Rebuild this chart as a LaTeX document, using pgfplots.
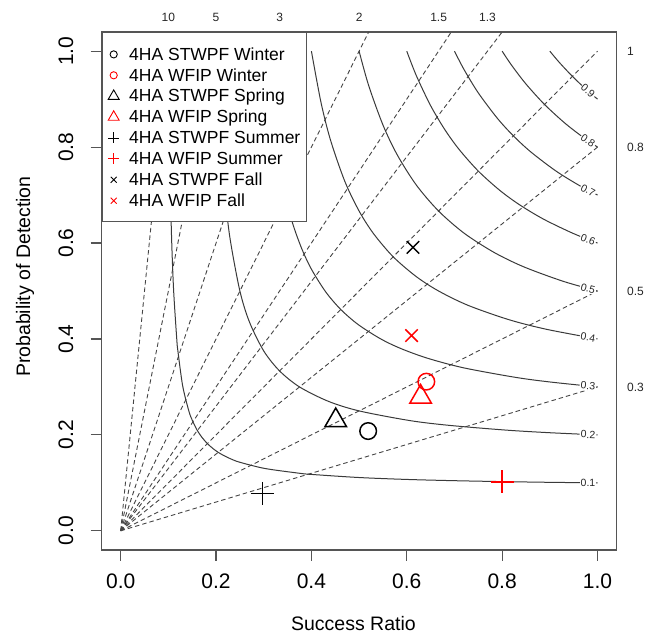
\documentclass[border=0pt]{standalone}
\usepackage{fontspec}
\setmainfont{Liberation Sans}
\usepackage{pgfplots}
\pgfplotsset{compat=1.18}
\definecolor{framecol}{HTML}{555555}
\definecolor{curvecol}{HTML}{3A3A3A}
\definecolor{dashcol}{HTML}{454545}
\tikzset{
  lab/.style={font=\fontsize{10.5}{12}\selectfont, fill=white, inner sep=1pt, text=black!85},
  blab/.style={font=\fontsize{12}{14}\selectfont, text=black!85},
}
\begin{document}
\begin{tikzpicture}
\path[use as bounding box] (-101.6pt,-89pt) rectangle (553.4pt,550pt);
\begin{axis}[
  scale only axis, width=515pt, height=518pt,
  xmin=-0.04, xmax=1.04, ymin=-0.04, ymax=1.04,
  xtick={0,0.2,0.4,0.6,0.8,1}, ytick={0,0.2,0.4,0.6,0.8,1},
  xtick pos=left, ytick pos=left,
  tick align=outside, major tick length=11pt,
  axis line style={framecol, line width=1.3pt},
  tick style={framecol, line width=1.2pt},
  xticklabel style={font=\fontsize{21}{25}\selectfont, anchor=north, inner sep=0pt},
  yticklabel style={font=\fontsize{21}{25}\selectfont, rotate=90, anchor=south, inner sep=0pt},
  xticklabel shift=13pt, yticklabel shift=17pt,
  /pgf/number format/.cd, fixed, fixed zerofill, precision=1, assume math mode=true,
  /pgfplots/.cd,
  xlabel={Success Ratio}, ylabel={Probability of Detection},
  xlabel style={at={(axis description cs:0.489,-0.1429)}, anchor=center, font=\fontsize{19.5}{24}\selectfont},
  ylabel style={at={(axis description cs:-0.1487,0.5276)}, anchor=center, font=\fontsize{19.5}{24}\selectfont},
  clip=false,
  legend style={at={(rel axis cs:0,1)}, anchor=north west, draw=framecol, line width=1.2pt, fill=white,
    font=\fontsize{17.5}{21}\selectfont, inner xsep=6pt, inner ysep=15pt, row sep=8.3pt, column sep=10pt,
    nodes={inner sep=0pt, text height=12.6pt, text depth=0pt}},
  legend cell align=left,
  legend image code/.code={\draw[#1] plot coordinates {(0pt,-0.5pt)};},
  bias/.style={dashcol, line width=0.9pt, dash pattern=on 4.5pt off 3pt, forget plot},
  csi/.style={curvecol, line width=1pt, smooth, forget plot},
]
% legend
\addlegendimage{only marks, mark=o, mark size=3.6pt, line width=0.9pt, black}
\addlegendentry{4HA STWPF Winter}
\addlegendimage{only marks, mark=o, mark size=3.6pt, line width=0.9pt, red}
\addlegendentry{4HA WFIP Winter}
\addlegendimage{only marks, mark=triangle, mark size=6.3pt, line width=0.9pt, black}
\addlegendentry{4HA STWPF Spring}
\addlegendimage{only marks, mark=triangle, mark size=6.3pt, line width=0.9pt, red}
\addlegendentry{4HA WFIP Spring}
\addlegendimage{only marks, mark=+, mark size=5.5pt, line width=0.9pt, black}
\addlegendentry{4HA STWPF Summer}
\addlegendimage{only marks, mark=+, mark size=5.5pt, line width=0.9pt, red}
\addlegendentry{4HA WFIP Summer}
\addlegendimage{only marks, mark=x, mark size=4.2pt, line width=0.9pt, black}
\addlegendentry{4HA STWPF Fall}
\addlegendimage{only marks, mark=x, mark size=4.2pt, line width=0.9pt, red}
\addlegendentry{4HA WFIP Fall}

% bias lines
\addplot[bias] coordinates {(0,0) (1,0.3)};
\addplot[bias] coordinates {(0,0) (1,0.5)};
\addplot[bias] coordinates {(0,0) (1,0.8)};
\addplot[bias] coordinates {(0,0) (1,1)};
\addplot[bias] coordinates {(0,0) (0.8,1.04)};
\addplot[bias] coordinates {(0,0) (0.6933,1.04)};
\addplot[bias] coordinates {(0,0) (0.52,1.04)};
\addplot[bias] coordinates {(0,0) (0.3467,1.04)};
\addplot[bias] coordinates {(0,0) (0.208,1.04)};
\addplot[bias] coordinates {(0,0) (0.104,1.04)};

% CSI contours
\addplot[csi] coordinates {(0.1,1) (0.1011,0.9) (0.1026,0.8) (0.1045,0.7) (0.1071,0.6) (0.1111,0.5) (0.1176,0.4) (0.12,0.375) (0.13,0.3023) (0.1429,0.25) (0.15,0.2308) (0.16,0.2105) (0.1667,0.2) (0.17,0.1954) (0.1818,0.1818) (0.1954,0.17) (0.2,0.1667) (0.2105,0.16) (0.2308,0.15) (0.25,0.1429) (0.3023,0.13) (0.375,0.12) (0.4,0.1176) (0.5,0.1111) (0.6,0.1071) (0.7,0.1045) (0.8,0.1026) (0.9,0.1011) (1,0.1)};
\addplot[csi] coordinates {(0.2,1) (0.2045,0.9) (0.21,0.8077) (0.22,0.6875) (0.23,0.6053) (0.25,0.5) (0.27,0.4355) (0.3,0.375) (0.3333,0.3333) (0.375,0.3) (0.4355,0.27) (0.5,0.25) (0.6053,0.23) (0.6875,0.22) (0.8077,0.21) (0.9,0.2045) (1,0.2)};
\addplot[csi] coordinates {(0.3,1) (0.31,0.9029) (0.32,0.8276) (0.34,0.7183) (0.36,0.6429) (0.38,0.5876) (0.4,0.5455) (0.43,0.4981) (0.4615,0.4615) (0.4981,0.43) (0.5455,0.4) (0.5876,0.38) (0.6429,0.36) (0.7183,0.34) (0.8276,0.32) (0.9029,0.31) (1,0.3)};
\addplot[csi] coordinates {(0.4,1) (0.42,0.8936) (0.44,0.8148) (0.47,0.7287) (0.5,0.6667) (0.53,0.6199) (0.5714,0.5714) (0.6199,0.53) (0.6667,0.5) (0.7287,0.47) (0.8148,0.44) (0.8936,0.42) (1,0.4)};
\addplot[csi] coordinates {(0.5,1) (0.52,0.9286) (0.55,0.8462) (0.58,0.7838) (0.62,0.7209) (0.6667,0.6667) (0.7209,0.62) (0.7838,0.58) (0.8462,0.55) (0.9286,0.52) (1,0.5)};
\addplot[csi] coordinates {(0.6,1) (0.62,0.949) (0.65,0.8864) (0.68,0.8361) (0.71,0.7948) (0.75,0.75) (0.7948,0.71) (0.8361,0.68) (0.8864,0.65) (0.949,0.62) (1,0.6)};
\addplot[csi] coordinates {(0.7,1) (0.72,0.9618) (0.75,0.913) (0.79,0.86) (0.8235,0.8235) (0.86,0.79) (0.913,0.75) (0.9618,0.72) (1,0.7)};
\addplot[csi] coordinates {(0.8,1) (0.82,0.9704) (0.85,0.9315) (0.8889,0.8889) (0.9315,0.85) (0.9704,0.82) (1,0.8)};
\addplot[csi] coordinates {(0.9,1) (0.92,0.9764) (0.9474,0.9474) (0.9764,0.92) (1,0.9)};

% CSI labels
\node[lab] at (axis cs:0.98,0.1002) {0.1};
\node[lab, rotate=-2.4] at (axis cs:0.98,0.2008) {0.2};
\node[lab, rotate=-5.4] at (axis cs:0.98,0.3018) {0.3};
\node[lab, rotate=-9.6] at (axis cs:0.98,0.4033) {0.4};
\node[lab, rotate=-14.9] at (axis cs:0.98,0.5052) {0.5};
\node[lab, rotate=-21] at (axis cs:0.98,0.6074) {0.6};
\node[lab, rotate=-27.7] at (axis cs:0.98,0.7101) {0.7};
\node[lab, rotate=-34.6] at (axis cs:0.98,0.8133) {0.8};
\node[lab, rotate=-41.2] at (axis cs:0.98,0.9168) {0.9};

% bias labels
\node[blab, yshift=15pt] at (axis cs:0.1,1.04) {10};
\node[blab, yshift=15pt] at (axis cs:0.2,1.04) {5};
\node[blab, yshift=15pt] at (axis cs:0.3333,1.04) {3};
\node[blab, yshift=15pt] at (axis cs:0.5,1.04) {2};
\node[blab, yshift=15pt] at (axis cs:0.6667,1.04) {1.5};
\node[blab, yshift=15pt] at (axis cs:0.7692,1.04) {1.3};
\node[blab, anchor=west, xshift=7pt] at (axis cs:1.04,1) {1};
\node[blab, anchor=west, xshift=7pt] at (axis cs:1.04,0.8) {0.8};
\node[blab, anchor=west, xshift=7pt] at (axis cs:1.04,0.5) {0.5};
\node[blab, anchor=west, xshift=7pt] at (axis cs:1.04,0.3) {0.3};

% data points
\addplot[only marks, mark=o, mark size=8.3pt, line width=1.5pt, black, forget plot] coordinates {(0.519,0.208)};
\addplot[only marks, mark=o, mark size=8.3pt, line width=1.5pt, red, forget plot] coordinates {(0.641,0.311)};
\addplot[only marks, mark=triangle, mark size=12.5pt, line width=1.5pt, black, forget plot] coordinates {(0.451,0.230)};
\addplot[only marks, mark=triangle, mark size=12.5pt, line width=1.5pt, red, forget plot] coordinates {(0.629,0.279)};
\addplot[only marks, mark=+, mark size=11.5pt, line width=1.5pt, black, forget plot] coordinates {(0.297,0.078)};
\addplot[only marks, mark=+, mark size=11.5pt, line width=1.5pt, red, forget plot] coordinates {(0.80,0.102)};
\addplot[only marks, mark=x, mark size=8.8pt, line width=1.5pt, black, forget plot] coordinates {(0.613,0.591)};
\addplot[only marks, mark=x, mark size=8.8pt, line width=1.5pt, red, forget plot] coordinates {(0.610,0.407)};
\end{axis}
\end{tikzpicture}
\end{document}
